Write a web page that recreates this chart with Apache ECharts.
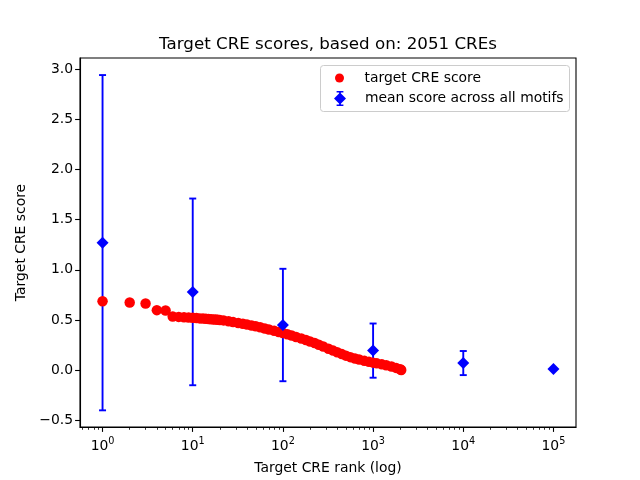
<!DOCTYPE html>
<html><head><meta charset="utf-8">
<script src="https://cdn.jsdelivr.net/npm/echarts@6/dist/echarts.min.js"></script>
<style>html,body{margin:0;padding:0;background:#fff}#c{width:640px;height:480px}</style>
</head><body><div id="c"></div>
<script>
const chartTitle = 'Target CRE scores, based on: 2051 CREs';
const xLabel = 'Target CRE rank (log)';
const yLabel = 'Target CRE score';
const seriesNames = ['target CRE score', 'mean score across all motifs'];

// red: target CRE score by rank
const ranks = [1,2,3,4,5,6,7,8,9,10,11,12,13,14,15,16,17,18,19,20,22,25,28,32,36,40,45,50,56,63,70,80,90,100,112,125,140,160,180,200,225,250,280,320,360,400,450,500,560,630,700,800,900,1000,1100,1250,1400,1600,1800,2000,2051];
const scores = [0.687,0.674,0.664,0.598,0.595,0.534,0.531,0.528,0.525,0.522,0.519,0.516,0.514,0.512,0.510,0.508,0.506,0.504,0.502,0.500,0.496,0.487,0.479,0.470,0.462,0.455,0.446,0.437,0.427,0.416,0.405,0.392,0.381,0.370,0.358,0.345,0.331,0.315,0.300,0.286,0.270,0.254,0.236,0.214,0.195,0.178,0.160,0.145,0.130,0.117,0.106,0.093,0.083,0.075,0.068,0.058,0.049,0.036,0.023,0.009,0.001];

// blue: mean score across all motifs, with error bars
const motifRanks = [1,10,100,1000,10000,100000];
const motifMeans = [1.27,0.78,0.45,0.195,0.071,0.012];
const motifErrs = [1.67,0.93,0.56,0.27,0.12,0.008];

// axes
const xTickExponents = [0,1,2,3,4,5];
const yTicks = [-0.5,0,0.5,1,1.5,2,2.5,3];
const xMinLog = -0.25, xMaxLog = 5.25;
const yMin = -0.566, yMax = 3.11;

const minorTicks = [];
for (let n = -1; n <= 5; n++) for (let k = 2; k <= 9; k++) minorTicks.push(Math.log10(k) + n);

const FONT = 'DejaVu Sans';
const redData = ranks.map((r, i) => [Math.log10(r), scores[i]]);
const blueData = motifRanks.map((r, i) => [Math.log10(r), motifMeans[i]]);
const errData = motifRanks.map((r, i) => [Math.log10(r), motifMeans[i], motifErrs[i]]);

const errIcon = 'path://M6 1.5L12 7.5L6 13.5L0 7.5Z M5.1 0L6.9 0L6.9 15L5.1 15Z M2.6 0L9.4 0L9.4 1.4L2.6 1.4Z M2.6 13.6L9.4 13.6L9.4 15L2.6 15Z';

const chart = echarts.init(document.getElementById('c'), null, {renderer: 'canvas'});
chart.setOption({
  animation: false,
  backgroundColor: '#fff',
  title: {
    text: chartTitle, left: 323, textAlign: 'center', top: 31,
    textStyle: {fontFamily: FONT, fontSize: 16.7, fontWeight: 'normal', color: '#000'}
  },
  graphic: [{
    type: 'rect', z: 1, left: 320, top: 65,
    shape: {width: 249, height: 46, r: 3},
    style: {fill: 'rgba(255,255,255,0.8)', stroke: '#cccccc', lineWidth: 1}
  }],
  legend: [
    {data: [{name: seriesNames[0], icon: 'circle'}], left: 335, top: 71, padding: 0,
     itemWidth: 40, itemHeight: 9, selectedMode: false, z: 5,
     textStyle: {fontFamily: FONT, fontSize: 13.9, color: '#000'}},
    {data: [{name: seriesNames[1], icon: errIcon}], left: 334, top: 91, padding: 0,
     itemWidth: 40, itemHeight: 15, selectedMode: false, z: 5,
     textStyle: {fontFamily: FONT, fontSize: 13.9, color: '#000'}}
  ],
  grid: {left: 80, right: 64, top: 58, bottom: 53, show: true, borderColor: '#000', borderWidth: 1.1,
         backgroundColor: 'transparent', outerBoundsMode: 'none'},
  xAxis: [{
    type: 'value', min: xMinLog, max: xMaxLog, position: 'bottom',
    name: xLabel, nameLocation: 'middle', nameGap: 34,
    nameTextStyle: {fontFamily: FONT, fontSize: 13.9, color: '#000'},
    axisLine: {show: true, onZero: false, lineStyle: {color: '#000', width: 1.1}},
    axisTick: {show: true, customValues: xTickExponents, length: 4.9, lineStyle: {color: '#000', width: 1.1}},
    axisLabel: {show: true, customValues: xTickExponents, margin: 9, color: '#000',
      formatter: v => '{b|10}{s|' + Math.round(v) + '}',
      rich: {b: {fontFamily: FONT, fontSize: 13.9, color: '#000', verticalAlign: 'bottom', lineHeight: 17},
             s: {fontFamily: FONT, fontSize: 9.7, color: '#000', verticalAlign: 'top', lineHeight: 17}}},
    splitLine: {show: false}
  }, {
    type: 'value', min: xMinLog, max: xMaxLog, position: 'bottom', gridIndex: 0,
    axisLine: {show: false, onZero: false},
    axisTick: {show: true, customValues: minorTicks, length: 2.8, lineStyle: {color: '#000', width: 0.8}},
    axisLabel: {show: false},
    splitLine: {show: false}
  }],
  yAxis: {
    type: 'value', min: yMin, max: yMax,
    name: yLabel, nameLocation: 'middle', nameGap: 46,
    nameTextStyle: {fontFamily: FONT, fontSize: 13.9, color: '#000'},
    axisLine: {show: true, onZero: false, lineStyle: {color: '#000', width: 1.1}},
    axisTick: {show: true, customValues: yTicks, length: 4.9, lineStyle: {color: '#000', width: 1.1}},
    axisLabel: {show: true, customValues: yTicks, margin: 7, color: '#000', fontFamily: FONT, fontSize: 13.9,
      formatter: v => (v < 0 ? '\u2212' : '') + Math.abs(v).toFixed(1)},
    splitLine: {show: false}
  },
  series: [{
    name: 'errorbars', type: 'custom', xAxisIndex: 0, z: 1, silent: true,
    data: errData,
    renderItem: (params, api) => {
      const x = api.value(0), m = api.value(1), e = api.value(2);
      const t = api.coord([x, m + e]), b = api.coord([x, m - e]);
      const hw = 3.5;
      const st = {stroke: '#0000ff', lineWidth: 1.9, fill: null};
      return {type: 'group', children: [
        {type: 'line', shape: {x1: t[0], y1: t[1], x2: b[0], y2: b[1]}, style: st},
        {type: 'line', shape: {x1: t[0] - hw, y1: t[1], x2: t[0] + hw, y2: t[1]}, style: st},
        {type: 'line', shape: {x1: b[0] - hw, y1: b[1], x2: b[0] + hw, y2: b[1]}, style: st}
      ]};
    }
  }, {
    name: seriesNames[0], type: 'scatter', xAxisIndex: 0, z: 2,
    data: redData, symbol: 'circle', symbolSize: 10.5,
    itemStyle: {color: '#ff0000', opacity: 1}
  }, {
    name: seriesNames[1], type: 'scatter', xAxisIndex: 0, z: 3,
    data: blueData, symbol: 'diamond', symbolSize: 12,
    itemStyle: {color: '#0000ff', opacity: 1}
  }]
});
</script>
</body></html>
